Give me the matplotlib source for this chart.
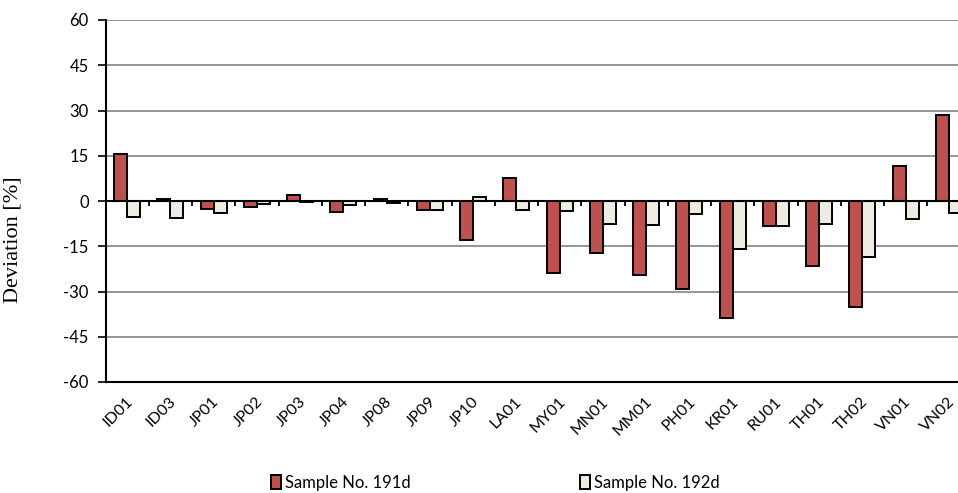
import matplotlib
matplotlib.use("Agg")
import matplotlib.pyplot as plt
import matplotlib.transforms as mtransforms
import numpy as np

categories = ["ID01", "ID03", "JP01", "JP02", "JP03", "JP04", "JP08", "JP09", "JP10", "LA01",
              "MY01", "MN01", "MM01", "PH01", "KR01", "RU01", "TH01", "TH02", "VN01", "VN02"]
sample_191d = [15.6, 0.8, -2.8, -2.1, 2.0, -3.5, 0.8, -3.1, -13.0, 7.5,
               -23.8, -17.2, -24.6, -29.2, -38.7, -8.3, -21.5, -35.0, 11.7, 28.6]
sample_192d = [-5.4, -5.7, -4.1, -1.1, -0.3, -1.4, -0.8, -3.1, 1.3, -2.9,
               -3.2, -7.5, -8.0, -4.4, -16.0, -8.3, -7.7, -18.7, -5.9, -4.1]
yticks = [-60, -45, -30, -15, 0, 15, 30, 45, 60]
series_names = ["Sample No. 191d", "Sample No. 192d"]

ui = "Lato"
fig = plt.figure(figsize=(9.58, 4.93), dpi=100)
ax = fig.add_axes([105.5/958, 1-382/493, 865/958, (382-20)/493])

x = np.arange(len(categories))
w = 0.3
ax.bar(x - w/2, sample_191d, w, color="#C0504D", edgecolor="black", linewidth=1.4,
       label=series_names[0], zorder=3)
ax.bar(x + w/2, sample_192d, w, color="#EEECE1", edgecolor="black", linewidth=1.4,
       label=series_names[1], zorder=3)

ax.set_xlim(-0.5, len(categories) - 0.5)
ax.set_ylim(-60, 60)
ax.set_yticks(yticks)
ax.set_yticklabels([str(v) for v in yticks], fontfamily=ui, fontsize=12)
ax.yaxis.grid(True, color="#8c8c8c", linewidth=1.3, zorder=0)
ax.set_axisbelow(True)

ax.axhline(0, color="black", linewidth=1.5, zorder=4)
bounds = np.arange(len(categories) + 1) - 0.5
ax.vlines(bounds, -1.8, 0, color="black", linewidth=1.3, zorder=4)

ax.set_xticks(x)
ax.set_xticklabels(categories, rotation=45, ha="right", rotation_mode="anchor",
                   fontfamily=ui, fontsize=11.5)
ax.tick_params(axis="x", length=0, pad=9)
offset = mtransforms.ScaledTranslation(-1.5/100, 0, fig.dpi_scale_trans)
for lbl in ax.get_xticklabels():
    lbl.set_transform(lbl.get_transform() + offset)
ax.tick_params(axis="y", direction="out", length=6, width=1.2, pad=6)

for s in ["top", "right"]:
    ax.spines[s].set_visible(False)
ax.spines["left"].set_linewidth(1.5)
ax.spines["bottom"].set_linewidth(1.5)

ax.set_ylabel("Deviation [%]", fontfamily="Liberation Serif", fontsize=16)
ax.yaxis.set_label_coords((22 - 105.5) / 865, (382 - 240) / 362)

fig.legend(loc="center", bbox_to_anchor=(0.517, 0.02), ncol=2, frameon=False,
           prop={"family": ui, "size": 12}, handlelength=0.6, handleheight=0.9,
           handletextpad=0.2, columnspacing=10.2)

fig.savefig("out.png", dpi=100)
